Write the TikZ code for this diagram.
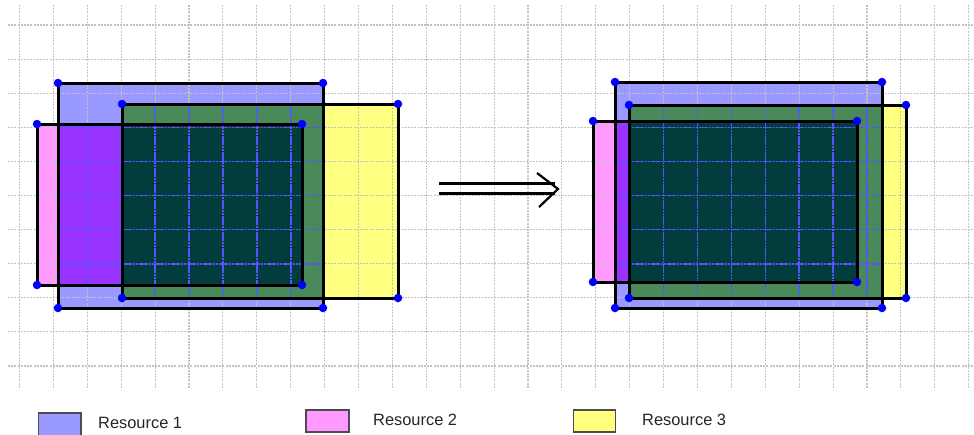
\documentclass[tikz,border=0pt]{standalone}
\usepackage{fontspec}
\setmainfont{Liberation Sans}
\usetikzlibrary{calc}
\definecolor{resA}{RGB}{153,153,255}
\definecolor{resB}{RGB}{255,153,255}
\definecolor{resC}{RGB}{255,255,128}
\definecolor{mixAB}{RGB}{153,51,255}
\definecolor{mixAC}{RGB}{74,138,90}
\definecolor{mixABC}{RGB}{3,60,60}
\definecolor{gridgray}{RGB}{195,195,195}
\definecolor{gridblue}{RGB}{85,85,255}
\begin{document}
\begin{tikzpicture}[x=1pt,y=-1pt,
  gridline/.style={draw=gridgray,line width=1.1pt,dash pattern=on 2pt off 1.2pt},
  gridover/.style={draw=gridblue,line width=1.6pt,dash pattern=on 2.6pt off 0.6pt},
  outline/.style={draw=black,line width=3pt},
  corner/.style={fill=blue,circle,inner sep=0pt,minimum size=8.5pt},
  keybox/.style={draw=black!70,line width=1.4pt},
  keytext/.style={anchor=west,inner sep=0pt,text=black!85,font=\fontsize{16.4}{18}\selectfont},
  arrowline/.style={draw=black,line width=2.2pt}]
\useasboundingbox (0,0) rectangle (974,434);
\fill[white] (0,0) rectangle (974,434);

% ---------- left configuration ----------
\fill[resA] (58,83) rectangle (323,308);
\fill[resB] (37,124) rectangle (302,285);
\fill[resC] (122,104) rectangle (398,298);
\fill[mixAB] (58,124) rectangle (302,285);
\fill[mixAC] (122,104) rectangle (323,298);
\fill[mixABC] (122,124) rectangle (302,285);

% ---------- right configuration ----------
\fill[resA] (615,82) rectangle (882,308);
\fill[resB] (593,121) rectangle (857,282);
\fill[resC] (629,105) rectangle (906,298);
\fill[mixAB] (615,121) rectangle (857,282);
\fill[mixAC] (629,105) rectangle (882,298);
\fill[mixABC] (629,121) rectangle (857,282);

% dotted grid over the whole sheet (dashes start at y=5 and x=8)
\foreach \i in {0,...,28}
  \draw[gridline] ({19.5+33.9*\i},5) -- ({19.5+33.9*\i},388);
\foreach \j in {0,...,10}
  \draw[gridline] (8,{25+34.1*\j}) -- (974,{25+34.1*\j});

% the same grid lines in blue across the dark overlaps, dashes kept in step
\foreach \x in {155.1,189,222.9,256.8,290.7}
  \draw[gridover,dash phase=0.1pt] (\x,104) -- (\x,298);
\foreach \x in {87.3,121.2}
  \draw[gridover,dash phase=0.9pt] (\x,124) -- (\x,285);
\foreach \y in {127.3,161.4,195.5,229.6,263.7}
  \draw[gridover,dash phase=2.3pt] (58,\y) -- (323,\y);
\foreach \x in {629.7,663.6,697.5,731.4,765.3,799.2,833.1,867}
  \draw[gridover,dash phase=1.1pt] (\x,105) -- (\x,298);
\foreach \y in {127.3,161.4,195.5,229.6,263.7}
  \draw[gridover,dash phase=2.5pt] (615,\y) -- (882,\y);

% outlines and corner points
\foreach \xa/\ya/\xb/\yb/\n in {58/83/323/308/la, 37/124/302/285/lb, 122/104/398/298/lc,
                                615/82/882/308/ra, 593/121/857/282/rb, 629/105/906/298/rc}{
  \draw[outline] (\xa,\ya) rectangle (\xb,\yb);
  \node[corner] (\n1) at (\xa,\ya) {};
  \node[corner] (\n2) at (\xb,\ya) {};
  \node[corner] (\n3) at (\xa,\yb) {};
  \node[corner] (\n4) at (\xb,\yb) {};
}

% transformation arrow
\coordinate (atail) at (439,188.5);
\coordinate (ahead) at (558,189);
\draw[arrowline] ($(atail)+(0,-5)$) -- ($(ahead)+(-3,-5.5)$);
\draw[arrowline] ($(atail)+(0,5)$) -- ($(ahead)+(-3,4.5)$);
\draw[arrowline,line join=miter] ($(ahead)+(-21,-16)$) -- (ahead) -- ($(ahead)+(-19,18)$);

% legend
\draw[keybox,fill=resA] (38.5,413) rectangle (81,436);
\node[keytext] (k1) at (98,423) {Resource 1};
\draw[keybox,fill=resB] (306,410) rectangle (349,432);
\node[keytext] (k2) at (373,420) {Resource 2};
\draw[keybox,fill=resC] (573.5,410) rectangle (615.5,432);
\node[keytext] (k3) at (642,420) {Resource 3};
\end{tikzpicture}
\end{document}
